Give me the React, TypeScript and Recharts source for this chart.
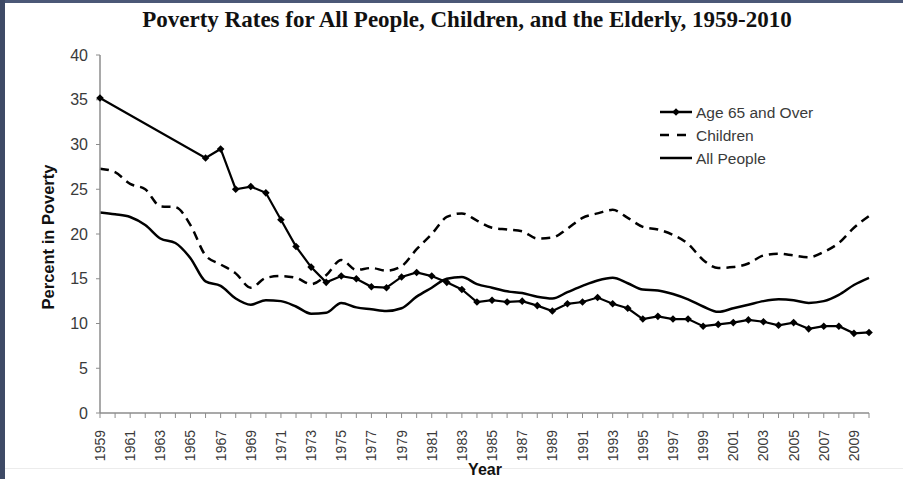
import React from 'react';
import { LineChart, Line, XAxis, YAxis } from 'recharts';

const years = [
    1959, 1960, 1961, 1962, 1963, 1964, 1965, 1966, 1967, 1968, 1969, 1970, 1971,
    1972, 1973, 1974, 1975, 1976, 1977, 1978, 1979, 1980, 1981, 1982, 1983, 1984,
    1985, 1986, 1987, 1988, 1989, 1990, 1991, 1992, 1993, 1994, 1995, 1996, 1997,
    1998, 1999, 2000, 2001, 2002, 2003, 2004, 2005, 2006, 2007, 2008, 2009, 2010,
];

const allPeople = [
    22.4, 22.2, 21.9, 21.0, 19.5, 19.0, 17.3, 14.7, 14.2, 12.8, 12.1, 12.6, 12.5,
    11.9, 11.1, 11.2, 12.3, 11.8, 11.6, 11.4, 11.7, 13.0, 14.0, 15.0, 15.2, 14.4,
    14.0, 13.6, 13.4, 13.0, 12.8, 13.5, 14.2, 14.8, 15.1, 14.5, 13.8, 13.7, 13.3,
    12.7, 11.9, 11.3, 11.7, 12.1, 12.5, 12.7, 12.6, 12.3, 12.5, 13.2, 14.3, 15.1,
];

const children = [
    27.3, 26.9, 25.6, 25.0, 23.1, 23.0, 21.0, 17.6, 16.6, 15.6, 14.0, 15.1, 15.3,
    15.1, 14.4, 15.4, 17.1, 16.0, 16.2, 15.9, 16.4, 18.3, 20.0, 21.9, 22.3, 21.5,
    20.7, 20.5, 20.3, 19.5, 19.6, 20.6, 21.8, 22.3, 22.7, 21.8, 20.8, 20.5, 19.9,
    18.9, 17.1, 16.2, 16.3, 16.7, 17.6, 17.8, 17.6, 17.4, 18.0, 19.0, 20.7, 22.0,
];

// no elderly figures were published for 1960-1965
const elderly = [
    35.2, null, null, null, null, null, null, 28.5, 29.5, 25.0, 25.3, 24.6, 21.6,
    18.6, 16.3, 14.6, 15.3, 15.0, 14.1, 14.0, 15.2, 15.7, 15.3, 14.6, 13.8, 12.4,
    12.6, 12.4, 12.5, 12.0, 11.4, 12.2, 12.4, 12.9, 12.2, 11.7, 10.5, 10.8, 10.5,
    10.5, 9.7, 9.9, 10.1, 10.4, 10.2, 9.8, 10.1, 9.4, 9.7, 9.7, 8.9, 9.0,
];

const yTicks = [0, 5, 10, 15, 20, 25, 30, 35, 40];

const data = years.map((year, i) => ({
    year,
    all: allPeople[i],
    kids: children[i],
    old: elderly[i],
}));

const AXIS = '#8c8c8c';
const LABEL = '#3a3a3a';
const SANS = "Arial, 'Liberation Sans', sans-serif";

const YearTick = (props: any) => {
    const { x, y, payload } = props;
    if (payload.value % 2 === 0) return <g />;
    return (
        <text
            x={x + 5}
            y={y + 10}
            transform={`rotate(-90, ${x + 5}, ${y + 10})`}
            textAnchor="end"
            fill={LABEL}
            fontSize={14}
            fontFamily={SANS}
        >
            {payload.value}
        </text>
    );
};

const Diamond = (props: any) => {
    const { cx, cy } = props;
    if (cx == null || cy == null || props.value == null) return <g key={props.key} />;
    const r = 3.8;
    return (
        <polygon
            key={props.key}
            points={`${cx},${cy - r} ${cx + r},${cy} ${cx},${cy + r} ${cx - r},${cy}`}
            fill="#000"
        />
    );
};

const legendItems = [
    { name: 'Age 65 and Over', dash: undefined, marker: true, end: 42 },
    { name: 'Children', dash: '9 8', marker: false, end: 37 },
    { name: 'All People', dash: undefined, marker: false, end: 42 },
];

export default function App() {
    return (
        <div style={{ position: 'fixed', left: 0, top: 0, width: 903, height: 479, background: '#fff', overflow: 'hidden' }}>
            <div style={{ position: 'absolute', left: 0, top: 0, width: 903, height: 3, background: '#4b5877' }} />
            <div style={{ position: 'absolute', left: 0, top: 0, width: 5, height: 479, background: '#3e4a66' }} />
            <div style={{ position: 'absolute', left: 5, top: 468, width: 898, height: 1, background: '#ececec' }} />

            <div
                style={{
                    position: 'absolute',
                    left: 0,
                    top: 7,
                    width: 934,
                    textAlign: 'center',
                    fontFamily: "'Liberation Serif', 'Times New Roman', serif",
                    fontWeight: 'bold',
                    fontSize: 23,
                    color: '#111',
                }}
            >
                Poverty Rates for All People, Children, and the Elderly, 1959-2010
            </div>

            <div style={{ position: 'absolute', left: 0, top: 0 }}>
                <LineChart width={903} height={479} data={data} margin={{ top: 55, right: 34, left: 0, bottom: 0 }}>
                    <XAxis
                        dataKey="year"
                        type="number"
                        domain={[1959, 2010]}
                        ticks={years}
                        interval={0}
                        height={66}
                        tick={<YearTick />}
                        tickSize={5}
                        stroke={AXIS}
                        axisLine={{ stroke: AXIS, strokeWidth: 1.5 }}
                    />
                    <YAxis
                        domain={[0, 40]}
                        ticks={yTicks}
                        width={100}
                        tickSize={4}
                        tickMargin={8}
                        stroke={AXIS}
                        axisLine={{ stroke: AXIS, strokeWidth: 1.5 }}
                        tick={{ fill: LABEL, fontSize: 16, fontFamily: SANS }}
                    />
                    <Line
                        dataKey="all"
                        type="monotone"
                        stroke="#000"
                        strokeWidth={2.5}
                        dot={false}
                        isAnimationActive={false}
                    />
                    <Line
                        dataKey="kids"
                        type="monotone"
                        stroke="#000"
                        strokeWidth={2.5}
                        strokeDasharray="9 6"
                        dot={false}
                        isAnimationActive={false}
                    />
                    <Line
                        dataKey="old"
                        type="linear"
                        stroke="#000"
                        strokeWidth={2.2}
                        connectNulls
                        dot={<Diamond />}
                        isAnimationActive={false}
                    />
                    <text
                        x={48}
                        y={237}
                        transform="rotate(-90, 48, 237)"
                        textAnchor="middle"
                        dominantBaseline="central"
                        fontSize={16.5}
                        fontWeight="bold"
                        fill="#111"
                        fontFamily={SANS}
                    >
                        Percent in Poverty
                    </text>
                    <text
                        x={485}
                        y={475}
                        textAnchor="middle"
                        fontSize={16}
                        fontWeight="bold"
                        fill="#111"
                        fontFamily={SANS}
                    >
                        Year
                    </text>
                </LineChart>
            </div>

            <svg style={{ position: 'absolute', left: 650, top: 98 }} width={220} height={72}>
                {legendItems.map((item, i) => {
                    const cy = 14 + i * 23;
                    return (
                        <g key={item.name}>
                            <line x1={10} x2={item.end} y1={cy} y2={cy} stroke="#000" strokeWidth={2.5} strokeDasharray={item.dash} />
                            {item.marker && (
                                <polygon points={`26,${cy - 3.8} 29.8,${cy} 26,${cy + 3.8} 22.2,${cy}`} fill="#000" />
                            )}
                            <text
                                x={46}
                                y={cy}
                                dominantBaseline="central"
                                fontSize={15.5}
                                fill={LABEL}
                                fontFamily={SANS}
                            >
                                {item.name}
                            </text>
                        </g>
                    );
                })}
            </svg>
        </div>
    );
}
